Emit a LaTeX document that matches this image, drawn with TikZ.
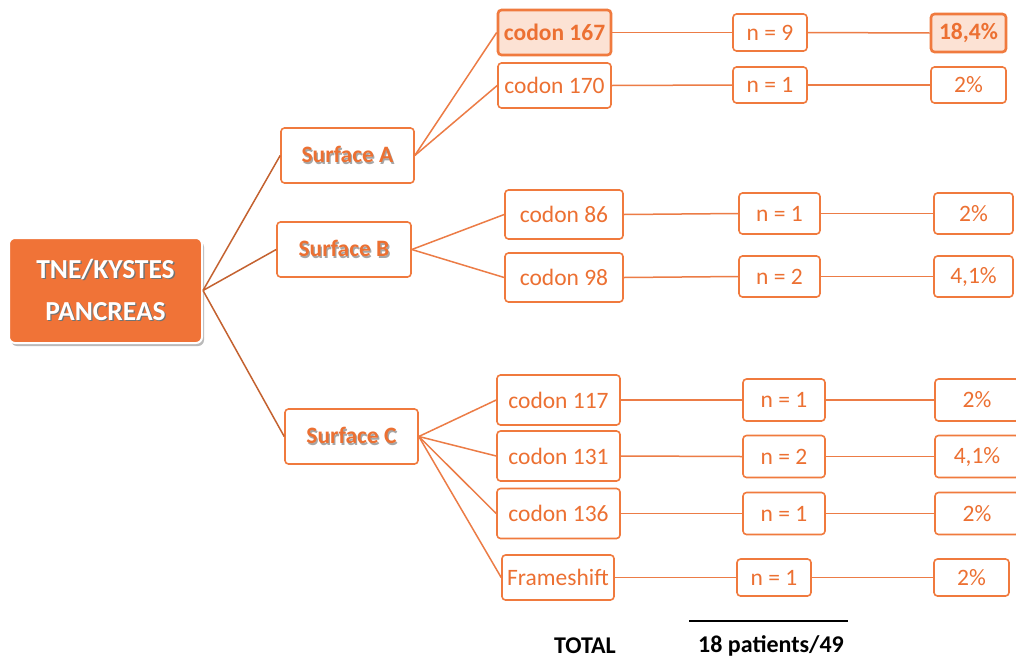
\documentclass[tikz,border=0pt]{standalone}
\usepackage{fontspec}
\setmainfont{Carlito}
\usetikzlibrary{shadows}
\definecolor{boxc}{RGB}{240,122,62}
\definecolor{txtc}{RGB}{236,112,50}
\definecolor{rootc}{RGB}{240,115,55}
\definecolor{lightc}{RGB}{252,226,212}
\definecolor{rootline}{RGB}{196,98,48}
\definecolor{linec}{RGB}{236,124,70}
\newcommand{\shadowtxt}[2]{\makebox[0pt][l]{\raisebox{-1.3pt}{\hspace{1.3pt}\textcolor{#2}{#1}}}#1}
\tikzset{
  box/.style={draw=boxc, line width=1.6pt, rounded corners=3.5pt, fill=white, text=txtc,
    font=\fontsize{23.5}{28}\selectfont, inner sep=0pt},
  hibox/.style={box, fill=lightc, line width=2.6pt, font=\fontsize{23.5}{28}\selectfont\bfseries},
  surf/.style={box, font=\fontsize{23.5}{28}\selectfont\bfseries, minimum width=133pt, minimum height=55pt},
  rootbox/.style={fill=rootc, draw=white, line width=2pt, rounded corners=6pt, text=white,
    font=\fontsize{27.5}{33}\selectfont\bfseries, align=center,
    drop shadow={shadow xshift=2pt, shadow yshift=-3pt, opacity=0.45, fill=black!60}},
  rl/.style={draw=rootline, line width=1.5pt},
  cl/.style={draw=linec, line width=1.5pt},
  tot/.style={font=\fontsize{24}{28}\selectfont\bfseries, text=black}
}
\begin{document}
\begin{tikzpicture}[x=1pt,y=-1pt]
\clip (0,0) rectangle (1016,659);
\fill[white] (0,0) rectangle (1016,659);

% root
\node[rootbox, minimum width=193pt, minimum height=105pt] (root) at (105.5,290.5)
  {\shadowtxt{TNE/KYSTES}{black!55}\\[9pt]\shadowtxt{PANCREAS}{black!55}};

% surfaces
\node[surf] (sA) at (347.5,155.5) {\shadowtxt{Surface A}{black!35}};
\node[surf, minimum width=134pt] (sB) at (344,249.5) {\shadowtxt{Surface B}{black!35}};
\node[surf] (sC) at (351.5,436.5) {\shadowtxt{Surface C}{black!35}};

% group A
\node[hibox, minimum width=113pt, minimum height=45pt] (c167) at (554.5,32.5) {codon 167};
\node[box, minimum width=74pt, minimum height=37pt] (n167) at (770,32.5) {n = 9};
\node[hibox, minimum width=75pt, minimum height=38pt] (p167) at (968.5,33) {18,4\%};
\node[box, minimum width=113pt, minimum height=45pt] (c170) at (554.5,85.5) {codon 170};
\node[box, minimum width=74pt, minimum height=36pt] (n170) at (770,85) {n = 1};
\node[box, minimum width=75pt, minimum height=36pt] (p170) at (968.5,85) {2\%};

% group B
\node[box, minimum width=118pt, minimum height=49pt] (c86) at (564,214.5) {codon 86};
\node[box, minimum width=81pt, minimum height=41pt] (n86) at (779.5,213.5) {n = 1};
\node[box, minimum width=79pt, minimum height=41pt] (p86) at (973.5,213.5) {2\%};
\node[box, minimum width=118pt, minimum height=49pt] (c98) at (564,277.5) {codon 98};
\node[box, minimum width=81pt, minimum height=41pt] (n98) at (779.5,276.5) {n = 2};
\node[box, minimum width=79pt, minimum height=41pt] (p98) at (973.5,276.5) {4,1\%};

% group C
\node[box, minimum width=123pt, minimum height=50pt] (c117) at (558.5,400) {codon 117};
\node[box, minimum width=82pt, minimum height=42pt] (n117) at (784,400) {n = 1};
\node[box, minimum width=84pt, minimum height=42pt] (p117) at (977,400) {2\%};
\node[box, minimum width=123pt, minimum height=50pt] (c131) at (558.5,456) {codon 131};
\node[box, minimum width=82pt, minimum height=42pt] (n131) at (784,456.5) {n = 2};
\node[box, minimum width=84pt, minimum height=42pt] (p131) at (977,456.5) {4,1\%};
\node[box, minimum width=123pt, minimum height=50pt] (c136) at (558.5,513.5) {codon 136};
\node[box, minimum width=82pt, minimum height=42pt] (n136) at (784,513.5) {n = 1};
\node[box, minimum width=84pt, minimum height=42pt] (p136) at (977,513.5) {2\%};
\node[box, minimum width=112pt, minimum height=45pt] (cfs) at (558,577.5) {Frameshift};
\node[box, minimum width=74pt, minimum height=37pt] (nfs) at (774,577.5) {n = 1};
\node[box, minimum width=75pt, minimum height=37pt] (pfs) at (971.5,577.5) {2\%};

% connectors root -> surfaces
\draw[rl] (root.east) -- (sA.west);
\draw[rl] (root.east) -- (sB.west);
\draw[rl] (root.east) -- (sC.west);

% surfaces -> codons
\draw[cl] (sA.east) -- (c167.west);
\draw[cl] (sA.east) -- (c170.west);
\draw[cl] (sB.east) -- (c86.west);
\draw[cl] (sB.east) -- (c98.west);
\draw[cl] (sC.east) -- (c117.west);
\draw[cl] (sC.east) -- (c131.west);
\draw[cl] (sC.east) -- (c136.west);
\draw[cl] (sC.east) -- (cfs.west);

% rows
\foreach \r in {167,170,86,98,117,131,136,fs}{
  \draw[cl] (c\r.east) -- (n\r.west);
  \draw[cl] (n\r.east) -- (p\r.west);
}

% total
\coordinate (tl) at (689,621);
\coordinate (tr) at (848,621);
\draw[black, line width=1.5pt] (tl) -- (tr);
\node[tot] (total) at (585,646) {TOTAL};
\node[tot] (pat) at (771,646) {18 patients/49};
\end{tikzpicture}
\end{document}
